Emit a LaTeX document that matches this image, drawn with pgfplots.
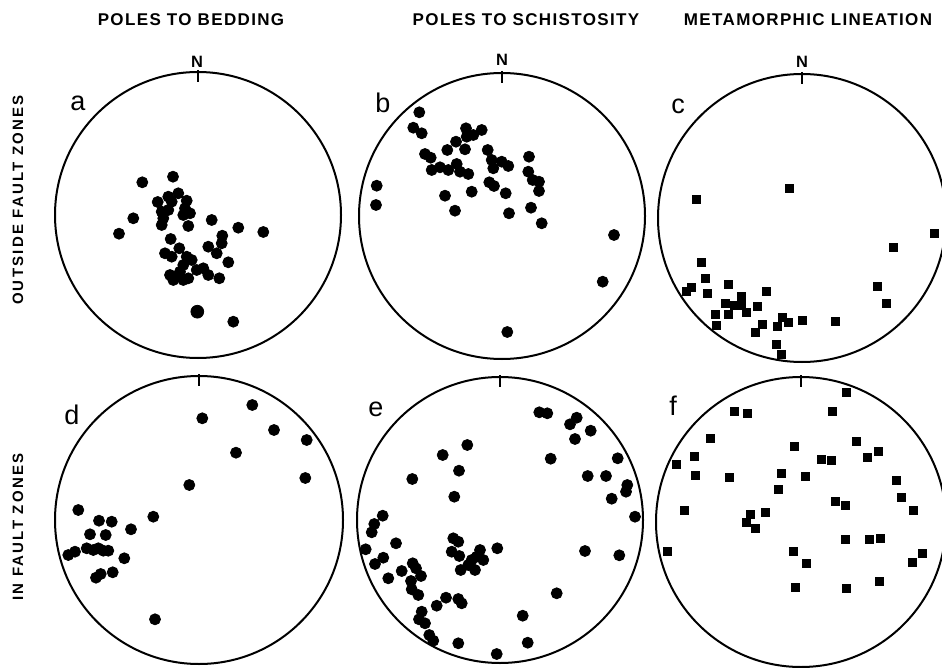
\documentclass[border=0pt]{standalone}
\usepackage{pgfplots}
\pgfplotsset{compat=1.18}
\usepackage{fontspec}
\setmainfont{Liberation Sans}
\newfontfamily\titlefont{Liberation Sans}[LetterSpace=8]
\newfontfamily\rowfont{Liberation Sans}[LetterSpace=15]
\begin{document}
\begin{tikzpicture}
\useasboundingbox (0,0) rectangle (471pt,334pt);
\begin{axis}[at={(0,0)}, anchor=south west, scale only axis, width=471pt, height=334pt,
  xmin=0, xmax=942, ymin=0, ymax=668, y dir=reverse, hide axis, clip=true]
% frames
\draw[line width=1pt] (axis cs:198,215) circle[radius=71.5pt];
\draw[line width=1pt] (axis cs:502,216) circle[radius=71.5pt];
\draw[line width=1pt] (axis cs:802,218) circle[radius=72pt];
\draw[line width=1pt] (axis cs:199,520) circle[radius=72pt];
\draw[line width=1pt] (axis cs:500,520) circle[radius=71.5pt];
\draw[line width=1pt] (axis cs:801,522) circle[radius=72.5pt];
\draw[line width=1pt] (axis cs:198,70) -- (axis cs:198,82);
\draw[line width=1pt] (axis cs:502,71) -- (axis cs:502,83);
\draw[line width=1pt] (axis cs:802,72) -- (axis cs:802,84);
\draw[line width=1pt] (axis cs:199,374) -- (axis cs:199,386);
\draw[line width=1pt] (axis cs:500,375) -- (axis cs:500,387);
\draw[line width=1pt] (axis cs:801,375) -- (axis cs:801,387);
% titles
\node[font=\titlefont\bfseries\fontsize{8.5}{10}\selectfont] at (axis cs:191,20) {POLES TO BEDDING};
\node[font=\titlefont\bfseries\fontsize{8.5}{10}\selectfont] at (axis cs:526,20) {POLES TO SCHISTOSITY};
\node[font=\titlefont\bfseries\fontsize{8.5}{10}\selectfont] at (axis cs:808,20) {METAMORPHIC LINEATION};
\node[font=\bfseries\fontsize{8.2}{9}\selectfont] at (axis cs:197,61.5) {N};
\node[font=\bfseries\fontsize{8.2}{9}\selectfont] at (axis cs:502,60) {N};
\node[font=\bfseries\fontsize{8.2}{9}\selectfont] at (axis cs:802,62) {N};
\node[rotate=90, font=\rowfont\bfseries\fontsize{7.5}{9}\selectfont] at (axis cs:18,200) {OUTSIDE FAULT ZONES};
\node[rotate=90, font=\rowfont\bfseries\fontsize{7.5}{9}\selectfont] at (axis cs:18,527) {IN FAULT ZONES};
\node[font=\fontsize{13.5}{14}\selectfont] at (axis cs:78,103) {a};
\node[font=\fontsize{13.5}{14}\selectfont] at (axis cs:383,103) {b};
\node[font=\fontsize{13.5}{14}\selectfont] at (axis cs:678,106) {c};
\node[font=\fontsize{13.5}{14}\selectfont] at (axis cs:72,415) {d};
\node[font=\fontsize{13.5}{14}\selectfont] at (axis cs:376,409) {e};
\node[font=\fontsize{13.5}{14}\selectfont] at (axis cs:673,406) {f};
% a: poles to bedding, outside
\addplot[only marks, mark=*, mark size=2.75pt, black] table {
x y
142.3 182.3
173 176.7
133.3 218.3
119 233.7
157.7 202
168.3 196.7
178.3 193.3
171.7 201.7
161.7 211.7
168.3 210
163.3 218.3
161.7 225
186.7 200.7
185 208.3
190 213.3
183.3 215
188.3 226
211.7 220
238.3 227.7
263.3 232
222.3 235.7
221.7 243.3
208.3 246.7
216.7 253.3
170.7 239
179.3 248.3
165 253.3
171.7 256.7
186.7 256.7
191.7 260
228.3 262.3
183.3 265
196.7 270
203.3 268.3
208.3 275
219.3 278.3
170 275
176.7 276.7
183.3 280
188.3 278.3
173.3 280
180 271.7
233.3 321.7
};
\addplot[only marks, mark=*, mark size=3.2pt, black] table {
x y
197.3 311.7
};
% b: poles to schistosity, outside
\addplot[only marks, mark=*, mark size=2.75pt, black] table {
x y
419.3 112.3
413.3 127.7
421.7 133.3
425 154
430.7 157.7
431.7 170
440 167.3
448.3 170
456.7 164
460 171.7
468.3 174
447.3 150
456 141.7
466 128.3
466.7 136.7
473.3 135
481.7 130
465 149.3
487.7 150
491.7 160
493.3 168.3
501.7 161.7
508.3 166
489.3 182.3
494 186
471.7 191.7
445 195.7
455 210.7
505.7 193.3
509 213.3
529 156.7
528.3 171.7
532.7 180
539 181.7
539 191
531 207.7
541.7 223.3
376.7 185.7
376 205
614 235
602.7 281.7
507.3 332
};
% c: metamorphic lineation, outside
\addplot[only marks, mark=square*, mark size=2pt, black] table {
x y
789 188.7
696.7 199.3
934 233.3
893.3 247.7
701.7 262.3
705 278.3
691.7 287.7
686 291
707.3 293.3
728.3 284.3
766.7 291
877.7 286
886.7 303.3
741.7 296
734 305
741.7 305
725 303.3
746.7 312.7
757.7 306.7
715 314.3
728.3 314
716.7 325
762.3 324.3
755 332.7
782.3 317.3
788.3 322.3
777.7 326.7
802.7 320.7
835.7 321
776.7 344
781.7 354
};
% d: poles to bedding, in fault zones
\addplot[only marks, mark=*, mark size=2.75pt, black] table {
x y
202.3 418.3
252.3 405
274 430
306.7 440
236 452.7
305.3 478
189.3 485
153.3 516.7
131 529.3
78.3 510
99 520.7
111.7 521.7
90 534.3
105.7 535
86.7 548.3
93.3 550
98.3 548.3
103.3 550.7
108.3 550.7
75 551.7
68.3 555
124.3 558.3
112.7 572.3
96 577.7
100.7 574
155 619.3
};
% e: poles to schistosity, in fault zones
\addplot[only marks, mark=*, mark size=2.75pt, black] table {
x y
539.3 412.3
547.3 413.3
576.7 417.7
570 424.3
590.7 430.7
575 439
467.3 445
442.7 455
550.7 458.7
617.7 458.3
459 470.7
412.3 479
587.7 476
606 476
627.3 485
626 491.7
611.7 498.7
454.3 496.7
635 516.7
382.7 515.7
374.3 524
371.7 532.3
396 543.3
365.7 549.3
383.3 557.7
375 564
388.3 578.3
401.7 571
412.7 563.3
416 568.3
421 576
411 581
411.7 589.3
418.3 595
453.3 538.3
458.3 541.7
451.7 551.7
459.3 556
480 550
476.7 556.7
471.7 560
483.3 560
475 570
468.3 565
460.7 570
497.3 548.3
585 551
619.3 555.3
556.7 593.3
446 597.7
436.7 605.7
458.3 599
461.7 603.3
421.7 611.7
419 619.3
425 623.3
522.7 615.7
429.3 635
433.3 640.7
458.3 643.3
527.7 642.7
496.7 654
};
% f: metamorphic lineation, in fault zones
\addplot[only marks, mark=square*, mark size=2pt, black] table {
x y
846.7 392.3
734.3 411.7
747.7 413.3
832 411.7
710 438
856.7 441
794 446
878.7 451
694.3 456
867.3 457.3
821.7 459.3
831 460.3
676 464.3
695.7 475
729 477
781.7 473.3
805 476.7
896.7 480
778.3 489
901.7 497.3
835 501.7
845 505.3
684 510
765.7 512
750 514
746.7 522.3
755.3 528
913 510
845 539
869 539
880 538
667.7 551.7
793.3 551.7
806 563.3
922 553
912.3 562.7
795 587.3
846.7 588.3
879.3 581.7
};
\end{axis}
\end{tikzpicture}
\end{document}
